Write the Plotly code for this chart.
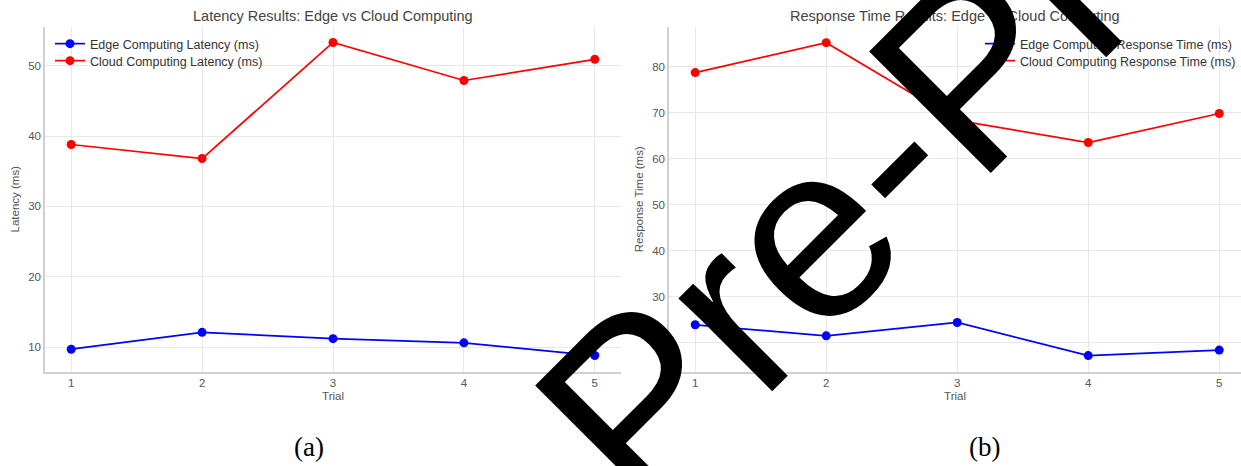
import plotly.graph_objects as go

# ---- data ----
trials = [1, 2, 3, 4, 5]
edge_latency = [9.7, 12.1, 11.2, 10.6, 8.8]
cloud_latency = [38.8, 36.8, 53.3, 47.9, 50.9]
edge_response = [23.9, 21.5, 24.4, 17.2, 18.4]
cloud_response = [78.7, 85.2, 68.3, 63.5, 69.8]

titles = ["Latency Results: Edge vs Cloud Computing",
          "Response Time Results: Edge vs Cloud Computing"]
y_titles = ["Latency (ms)", "Response Time (ms)"]
panel_labels = ["(a)", "(b)"]
watermark = "Pre-Print"

W, H = 1241, 466
BLUE, RED = "#0000ff", "#ff0000"
FONT = "Liberation Sans, Arial, sans-serif"

def px(x):
    return x / W

def py(y):
    return 1 - y / H

fig = go.Figure()

def add(x, y, name, color, xa, ya, leg):
    fig.add_trace(go.Scatter(
        x=x, y=y, name=name, mode="lines+markers",
        line=dict(color=color, width=1.7),
        marker=dict(color=color, size=9),
        xaxis=xa, yaxis=ya, legend=leg))

add(trials, edge_latency, "Edge Computing Latency (ms)", BLUE, "x", "y", "legend")
add(trials, cloud_latency, "Cloud Computing Latency (ms)", RED, "x", "y", "legend2")
add(trials, edge_response, "Edge Computing Response Time (ms)", BLUE, "x2", "y2", "legend3")
add(trials, cloud_response, "Cloud Computing Response Time (ms)", RED, "x2", "y2", "legend4")

grid = "#e8e8e8"
spine = "#d0d0d0"
tickfont = dict(family=FONT, size=11.5, color="#555555")
titlefont = dict(family=FONT, size=11.5, color="#555555")

ydom = [py(371.5), py(27)]

def xaxis(domain, rng, anchor):
    return dict(domain=domain, range=rng, anchor=anchor, tickmode="array",
                tickvals=trials, ticktext=[str(t) for t in trials],
                showgrid=True, gridcolor=grid, gridwidth=1,
                showline=True, linecolor=spine, linewidth=1.5, zeroline=False,
                tickfont=tickfont, ticks="", automargin=False,
                title=dict(text="Trial", font=titlefont, standoff=4))

def yaxis(rng, anchor, title, standoff):
    return dict(domain=ydom, range=rng, anchor=anchor, dtick=10,
                showgrid=True, gridcolor=grid, gridwidth=1,
                showline=True, linecolor=spine, linewidth=1.5, zeroline=False,
                tickfont=tickfont, ticks="", automargin=False,
                title=dict(text=title, font=titlefont, standoff=standoff))

def legend(xpix, ypix):
    return dict(x=px(xpix), y=py(ypix), xanchor="left", yanchor="middle",
                bgcolor="rgba(0,0,0,0)",
                font=dict(family=FONT, size=12.5, color="#333333"),
                tracegroupgap=0, itemwidth=30)

fig.update_layout(
    width=W, height=H,
    margin=dict(l=0, r=0, t=0, b=0),
    paper_bgcolor="white", plot_bgcolor="white",
    xaxis=xaxis([px(45), px(621)], [0.8, 5.2], "y"),
    yaxis=yaxis([6.53, 55.5], "x", y_titles[0], 6),
    xaxis2=xaxis([px(669), 1.0], [0.8, 5.166], "y2"),
    yaxis2=yaxis([13.75, 88.6], "x2", y_titles[1], 6),
    legend=legend(50, 44),
    legend2=legend(50, 61),
    legend3=legend(980, 44),
    legend4=legend(980, 61),
    showlegend=True,
)

ann = []
for cx, t in zip([333, 955], titles):
    ann.append(dict(text=t, x=px(cx), y=py(16), xref="paper", yref="paper",
                    showarrow=False, xanchor="center", yanchor="middle",
                    font=dict(family=FONT, size=14.5, color="#444444")))
for cx, t in zip([309, 985], panel_labels):
    ann.append(dict(text=t, x=px(cx), y=py(447), xref="paper", yref="paper",
                    showarrow=False, xanchor="center", yanchor="middle",
                    font=dict(family="Liberation Serif, Times New Roman, serif", size=27, color="black")))
ann.append(dict(text=watermark, x=px(930), y=py(112), xref="paper", yref="paper",
                showarrow=False, xanchor="center", yanchor="middle", textangle=-45,
                font=dict(family=FONT, size=250, color="black")))
fig.update_layout(annotations=ann)

fig.write_html("out.html", config={"displayModeBar": False},
               post_script="document.body.style.margin='0';document.body.style.overflow='hidden';")
